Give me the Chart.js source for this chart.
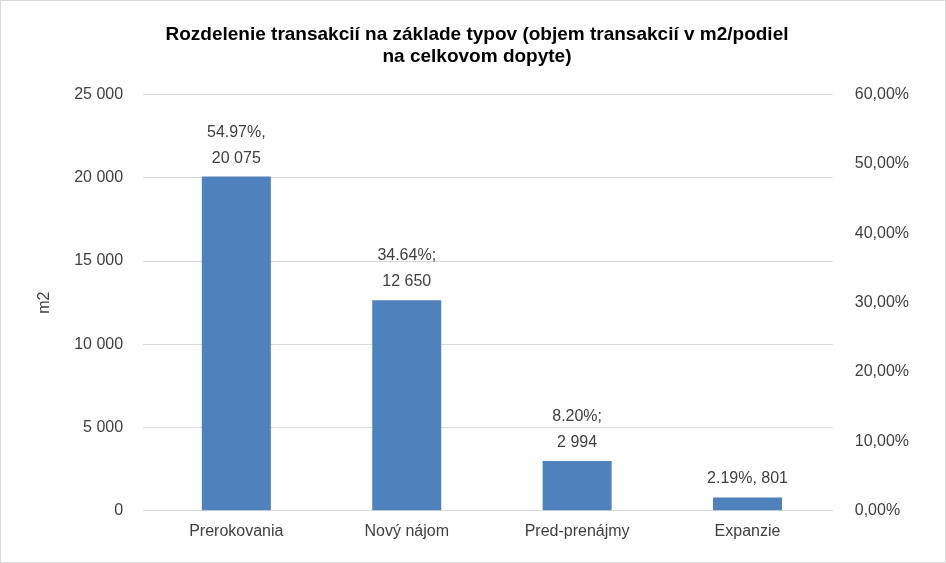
<!DOCTYPE html>
<html><head><meta charset="utf-8">
<script src="https://cdn.jsdelivr.net/npm/chart.js@4"></script>
<style>html,body{margin:0;padding:0;background:#fff}#w{width:944px;height:561px;border:1px solid #d9d9d9;position:relative}</style>
</head><body><div id="w"><canvas id="c"></canvas></div>
<script>
const categories=["Prerokovania","Nový nájom","Pred-prenájmy","Expanzie"];
const values=[20075,12650,2994,801];
const labelLines=[["54.97%,","20 075"],["34.64%;","12 650"],["8.20%;","2 994"],["2.19%, 801"]];
const leftTicks=[0,5000,10000,15000,20000,25000];
const fmt=v=>String(v).replace(/\B(?=(\d{3})+(?!\d))/g,' ');
const lbl={id:'lbl',afterDatasetsDraw(ch){const c=ch.ctx;const m=ch.getDatasetMeta(0);c.save();c.fillStyle='#404040';c.font='16px "Liberation Sans"';c.textAlign='center';c.textBaseline='alphabetic';
m.data.forEach((b,i)=>{const L=labelLines[i];L.forEach((t,j)=>{c.fillText(t,b.x,b.y-14-(L.length-1-j)*26);});});c.restore();}};
new Chart(document.getElementById('c'),{type:'bar',data:{labels:categories,datasets:[{data:values,backgroundColor:'#4f81bd',barPercentage:0.405,categoryPercentage:1}]},
options:{responsive:true,maintainAspectRatio:false,animation:false,layout:{padding:{left:30,right:22,top:0,bottom:18}},
plugins:{legend:{display:false},tooltip:{enabled:false},title:{display:true,text:["Rozdelenie transakcií na základe typov (objem transakcií v m2/podiel","na celkovom dopyte)"],color:'#000',font:{family:'"Liberation Sans"',size:19,weight:'bold'},padding:{top:22,bottom:26},lineHeight:1.55}},
scales:{x:{grid:{display:false},border:{color:'#d9d9d9'},ticks:{color:'#404040',font:{family:'"Liberation Sans"',size:16}}},
y:{min:0,max:25000,afterBuildTicks:a=>{a.ticks=leftTicks.map(v=>({value:v}))},grid:{color:'#d9d9d9'},border:{display:false},ticks:{padding:20,color:'#404040',font:{family:'"Liberation Sans"',size:16},callback:v=>fmt(v)},title:{display:true,text:'m2',color:'#404040',font:{family:'"Liberation Sans"',size:16},padding:{bottom:0}}},
y2:{position:'right',min:0,max:0.6,grid:{display:false},border:{display:false},ticks:{stepSize:0.1,padding:14,color:'#404040',font:{family:'"Liberation Sans"',size:16},callback:v=>(v*100).toFixed(2).replace('.',',')+'%'}}}},plugins:[lbl]});
</script></body></html>
